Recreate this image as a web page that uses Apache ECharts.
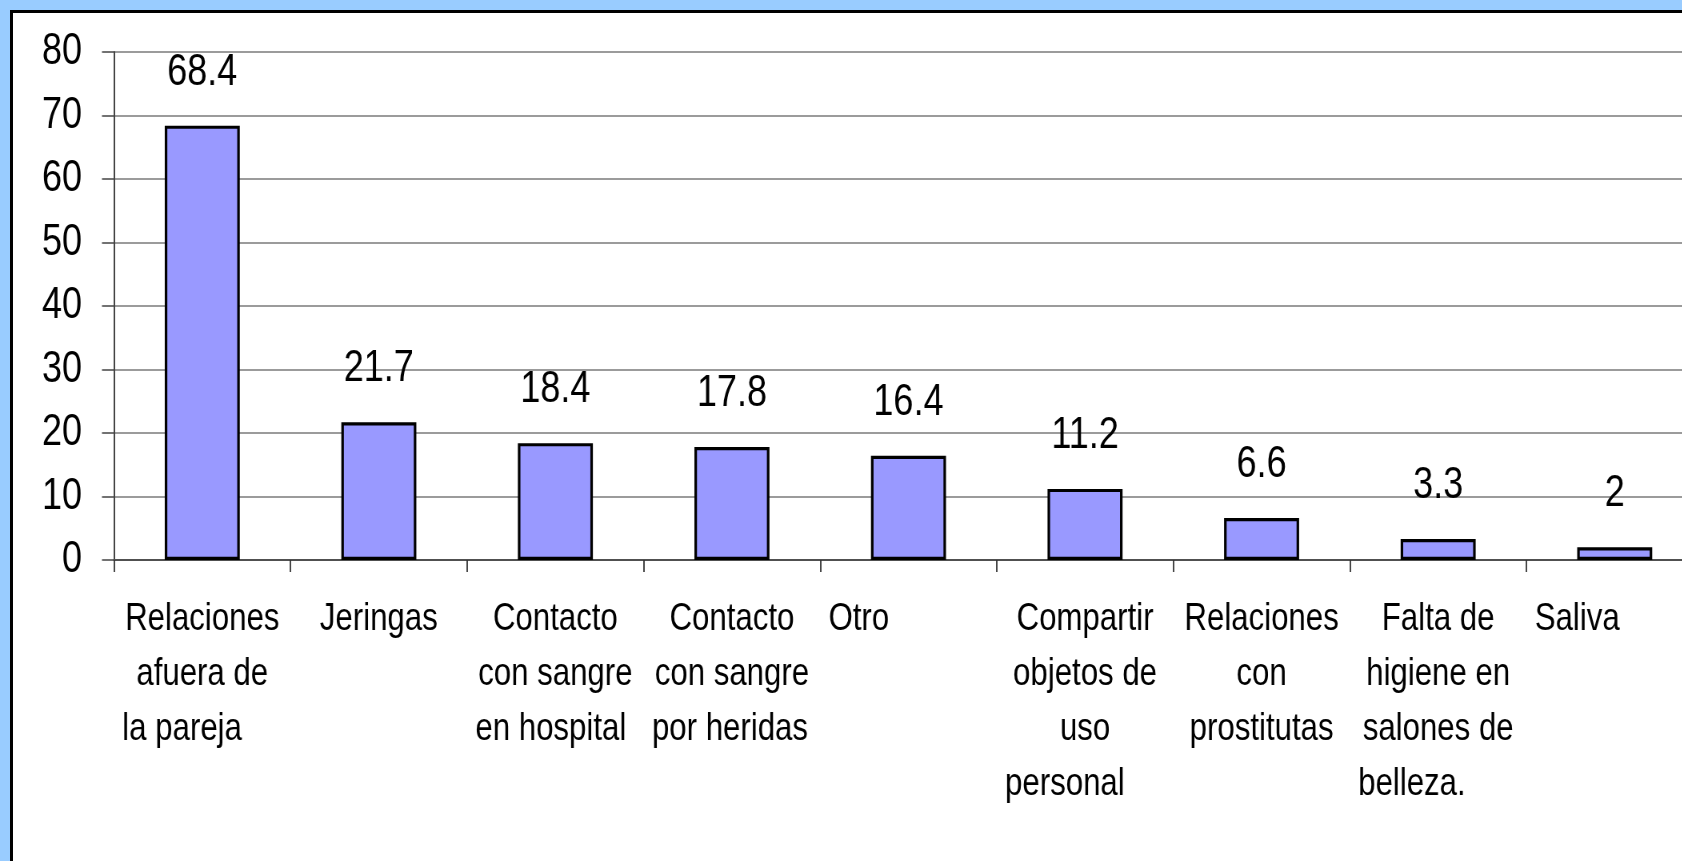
<!DOCTYPE html>
<html>
<head>
<meta charset="utf-8">
<script src="https://cdn.jsdelivr.net/npm/echarts@6/dist/echarts.min.js"></script>
<style>
  html, body { margin: 0; padding: 0; width: 1682px; height: 861px; overflow: hidden; background: #99CCFF; }
  #panel { position: absolute; left: 10px; top: 10px; width: 1720px; height: 900px;
           background: #ffffff; border-left: 3px solid #000; border-top: 3px solid #000; }
  /* the chart is laid out wide and squeezed horizontally, giving the narrow lettering */
  #chart { position: absolute; left: 0; top: 0; width: 2150px; height: 861px;
           transform: scaleX(0.8); transform-origin: 0 0; }
</style>
</head>
<body>
<div id="panel"></div>
<div id="chart"></div>
<script>
// Vías de contagio percibidas (%)
const categories = [
  'Relaciones\nafuera de\nla pareja',
  'Jeringas',
  'Contacto\ncon sangre\nen hospital',
  'Contacto\ncon sangre\npor heridas',
  'Otro',
  'Compartir\nobjetos de\nuso\npersonal',
  'Relaciones\ncon\nprostitutas',
  'Falta de\nhigiene en\nsalones de\nbelleza.',
  'Saliva'
];
const values = [68.4, 21.7, 18.4, 17.8, 16.4, 11.2, 6.6, 3.3, 2];
const yTicks = [0, 10, 20, 30, 40, 50, 60, 70, 80];

// Label blocks: these categories keep their last line flush left
const lastLineLeft = new Set([0, 2, 3, 4, 5, 7, 8]);

const SQUEEZE = 0.8;
const FONT = "'Liberation Sans', Arial, sans-serif";

function categoryLabel(text, index) {
  const lines = text.split('\n');
  return lines.map((ln, i) => {
    const left = lastLineLeft.has(index) && i === lines.length - 1;
    return '{' + (left ? 'l' : 'c') + '|' + ln + '}';
  }).join('\n');
}

const boxW = 160 / SQUEEZE;

const chart = echarts.init(document.getElementById('chart'), null, { renderer: 'canvas' });
chart.setOption({
  backgroundColor: 'transparent',
  animation: false,
  grid: { left: 114 / SQUEEZE, top: 52, right: 2150 - 1703 / SQUEEZE, bottom: 301, containLabel: false },
  xAxis: {
    type: 'category',
    data: categories,
    axisLine: { show: true, lineStyle: { color: '#505050', width: 2 } },
    axisTick: { show: true, length: 12, lineStyle: { color: '#333333', width: 1.8 } },
    axisLabel: {
      interval: 0,
      margin: 32,
      color: '#000',
      fontFamily: FONT,
      fontSize: 39,
      lineHeight: 55,
      formatter: (v, i) => categoryLabel(v, i),
      rich: {
        c: { width: boxW, align: 'center', fontFamily: FONT, fontSize: 39, lineHeight: 55, color: '#000' },
        l: { width: boxW, align: 'left', fontFamily: FONT, fontSize: 39, lineHeight: 55, color: '#000' }
      }
    }
  },
  yAxis: {
    type: 'value',
    min: yTicks[0],
    max: yTicks[yTicks.length - 1],
    interval: yTicks[1] - yTicks[0],
    axisLine: { show: true, lineStyle: { color: '#444444', width: 2 } },
    axisTick: { show: true, length: 12 / SQUEEZE, lineStyle: { color: '#444444', width: 1.5 } },
    splitLine: { show: true, lineStyle: { color: '#7a7a7a', width: 1.6 } },
    axisLabel: {
      margin: 32 / SQUEEZE,
      color: '#000',
      fontFamily: FONT,
      fontSize: 45
    }
  },
  series: [{
    type: 'bar',
    data: values,
    barWidth: '42.5%',
    itemStyle: { color: '#9999FF', borderColor: '#000000', borderWidth: 3.2 },
    label: {
      show: true,
      position: 'top',
      distance: 31,
      color: '#000',
      fontFamily: FONT,
      fontSize: 45,
      lineHeight: 45
    }
  }]
});
</script>
</body>
</html>
